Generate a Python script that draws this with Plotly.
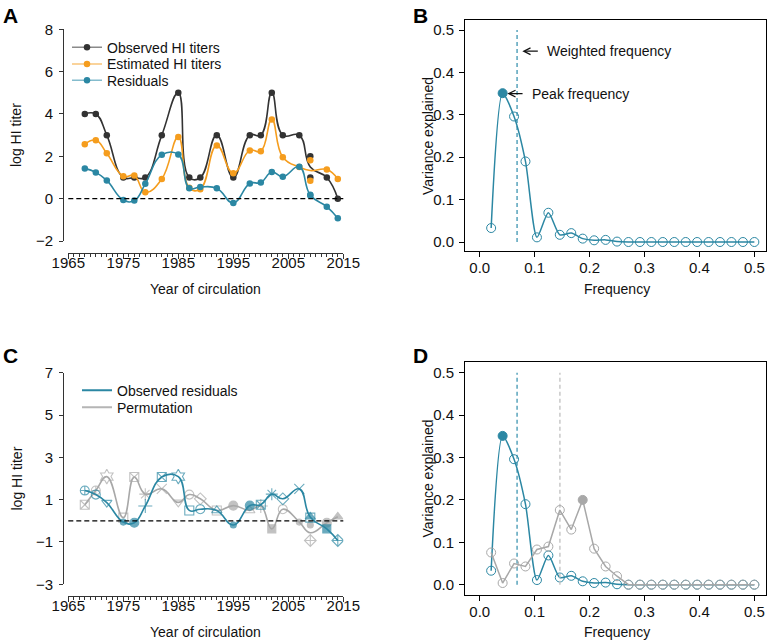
import plotly.graph_objects as go
import pandas as pd

# ---------------- data ----------------
years = [1968, 1970, 1972, 1975, 1977, 1979, 1982, 1985, 1987, 1989, 1992,
         1995, 1998, 2000, 2002, 2004, 2007, 2009, 2009, 2012, 2014]
observed = [4, 4, 3, 1, 1, 1, 3, 5, 1, 1, 3, 1, 3, 3, 5, 3, 3, 2, 1, 1, 0]
estimated = [2.57, 2.76, 2.14, 1.06, 1.09, 0.30, 0.93, 2.91, 0.51, 0.45, 2.51,
             1.20, 2.28, 2.24, 3.74, 1.96, 1.49, 1.81, 0.85, 1.38, 0.93]
residuals = [1.43, 1.24, 0.86, -0.06, -0.09, 0.70, 2.07, 2.09, 0.49, 0.55, 0.49,
             -0.20, 0.72, 0.76, 1.26, 1.04, 1.51, 0.19, 0.15, -0.38, -0.93]
# permuted residuals (panel C), same years
permutation = [0.76, 1.43, 2.09, 0.15, 2.07, 1.26, 1.51, 0.87, 1.24, 1.04, 0.49,
               0.72, 0.49, 0.70, -0.38, 0.55, -0.06, -0.20, -0.93, -0.09, 0.19]
perm_source = [13, 0, 7, 18, 6, 14, 16, 2, 1, 15, 8, 12, 10, 5, 19, 9, 3, 11, 20, 4, 17]

frequency = [0.0208, 0.0417, 0.0625, 0.0833, 0.1042, 0.1250, 0.1458, 0.1667,
             0.1875, 0.2083, 0.2292, 0.2500, 0.2708, 0.2917, 0.3125, 0.3333,
             0.3542, 0.3750, 0.3958, 0.4167, 0.4375, 0.4583, 0.4792, 0.5000]
var_observed = [0.033, 0.351, 0.296, 0.190, 0.011, 0.069, 0.017, 0.021, 0.008,
                0.004, 0.005, 0.001, 0, 0, 0, 0, 0, 0, 0, 0, 0, 0, 0, 0]
var_permuted = [0.076, 0.004, 0.050, 0.043, 0.083, 0.090, 0.176, 0.130, 0.200,
                0.085, 0.043, 0.020, 0, 0, 0, 0, 0, 0, 0, 0, 0, 0, 0, 0]
weighted_freq_observed = 0.068
weighted_freq_permuted = 0.146

x_ticks_years = [1965, 1975, 1985, 1995, 2005, 2015]

# ---------------- styles ----------------
W, H = 770, 640
FONT = "Liberation Sans"
TXT = "#111111"
DARK = "#333333"
ORANGE = "#f59d1e"
TEAL = "#2b87a3"
TEAL_DASH = "#4c9db7"
GRAY = "#a8a8a8"
GRAY_DASH = "#c4c4c4"

teal_symbols = ["circle-cross-open", "circle-open", "triangle-down-open", "circle",
                "circle", "cross-thin-open", "square-x-open", "hexagram-open",
                "square-open", "circle-open", "triangle-up-open", "circle", "circle",
                "square-x-open", "asterisk-open", "diamond-open", "x-thin-open",
                "triangle-up", "square-open", "square", "diamond-cross-open"]
teal_sizes = [9, 9, 9, 6, 9, 10, 9, 11, 9, 9, 9, 6, 9, 9, 10, 9, 10, 9, 9, 8, 9]
gray_symbols = [teal_symbols[i] for i in perm_source]
gray_sizes = [teal_sizes[i] for i in perm_source]


def px(xp):
    return xp / W


def py(yp):
    return 1 - yp / H


fig = go.Figure()

# ---------------- Panel A ----------------
dfA = pd.DataFrame({"year": years, "obs": observed, "est": estimated, "res": residuals})
meanA = dfA.groupby("year", as_index=False).mean()

for col, vals, color in [("obs", observed, DARK), ("est", estimated, ORANGE), ("res", residuals, TEAL)]:
    fig.add_trace(go.Scatter(x=meanA["year"], y=meanA[col], mode="lines",
                             line=dict(color=color, width=1.6, shape="spline", smoothing=1.3),
                             showlegend=False, hoverinfo="skip", xaxis="x", yaxis="y"))
    fig.add_trace(go.Scatter(x=years, y=vals, mode="markers",
                             marker=dict(color=color, size=6.5, symbol="circle"),
                             showlegend=False, xaxis="x", yaxis="y"))

legend_font = dict(family=FONT, size=14, color=TXT)
legend_layout = {}
entries_A = [("Observed HI titers", "#8a8a8a", DARK, 47.7),
             ("Estimated HI titers", "#f8c57a", ORANGE, 64.3),
             ("Residuals", "#84bccd", TEAL, 80.6)]
for i, (name, lc, mc, yc) in enumerate(entries_A):
    lid = "legend" if i == 0 else f"legend{i + 1}"
    fig.add_trace(go.Scatter(x=[None], y=[None], mode="lines+markers", name=name,
                             line=dict(color=lc, width=1.5),
                             marker=dict(color=mc, size=6.5), legend=lid,
                             xaxis="x", yaxis="y"))
    legend_layout[lid] = dict(x=px(67), y=py(yc), xanchor="left", yanchor="middle",
                              bgcolor="rgba(0,0,0,0)", borderwidth=0, font=legend_font)

# ---------------- Panel C ----------------
dfC = pd.DataFrame({"year": years, "res": residuals, "perm": permutation})
meanC = dfC.groupby("year", as_index=False).mean()

fig.add_trace(go.Scatter(x=meanC["year"], y=meanC["perm"], mode="lines",
                         line=dict(color=GRAY, width=1.6, shape="spline", smoothing=1.3),
                         showlegend=False, hoverinfo="skip", xaxis="x3", yaxis="y3"))
fig.add_trace(go.Scatter(x=years, y=permutation, mode="markers",
                         marker=dict(color=GRAY, size=gray_sizes, symbol=gray_symbols,
                                     line=dict(color=GRAY, width=1.1)),
                         showlegend=False, xaxis="x3", yaxis="y3"))
fig.add_trace(go.Scatter(x=meanC["year"], y=meanC["res"], mode="lines",
                         line=dict(color=TEAL, width=1.6, shape="spline", smoothing=1.3),
                         showlegend=False, hoverinfo="skip", xaxis="x3", yaxis="y3"))
fig.add_trace(go.Scatter(x=years, y=residuals, mode="markers",
                         marker=dict(color=TEAL, size=teal_sizes, symbol=teal_symbols,
                                     line=dict(color=TEAL, width=1.1)),
                         showlegend=False, xaxis="x3", yaxis="y3"))
entries_C = [("Observed residuals", TEAL, 390.7), ("Permutation", "#b5b5b5", 407.7)]
for j, (name, lc, yc) in enumerate(entries_C):
    lid = f"legend{4 + j}"
    fig.add_trace(go.Scatter(x=[None], y=[None], mode="lines", name=name,
                             line=dict(color=lc, width=2), legend=lid,
                             xaxis="x3", yaxis="y3"))
    legend_layout[lid] = dict(x=px(77), y=py(yc), xanchor="left", yanchor="middle",
                              bgcolor="rgba(0,0,0,0)", borderwidth=0, font=legend_font)

# ---------------- Panels B and D ----------------
peak_obs = max(range(len(var_observed)), key=lambda i: var_observed[i])
peak_perm = max(range(len(var_permuted)), key=lambda i: var_permuted[i])


def add_spectrum(xa, ya, vals, peak, color, shape, smoothing, wfreq, dash_color):
    fig.add_trace(go.Scatter(x=[wfreq, wfreq], y=[0, 0.5], mode="lines",
                             line=dict(color=dash_color, width=1.4, dash="4px,3px"),
                             showlegend=False, hoverinfo="skip", xaxis=xa, yaxis=ya))
    kw = dict(shape=shape)
    if shape == "spline":
        kw["smoothing"] = smoothing
    fig.add_trace(go.Scatter(x=frequency, y=vals, mode="lines+markers",
                             line=dict(color=color, width=1.5, **kw),
                             marker=dict(symbol="circle-open", size=9, color=color,
                                         line=dict(color=color, width=1)),
                             showlegend=False, xaxis=xa, yaxis=ya))
    fig.add_trace(go.Scatter(x=[frequency[peak]], y=[vals[peak]], mode="markers",
                             marker=dict(symbol="circle", size=9, color=color),
                             showlegend=False, xaxis=xa, yaxis=ya))


add_spectrum("x2", "y2", var_observed, peak_obs, TEAL, "spline", 0.7,
             weighted_freq_observed, TEAL_DASH)
add_spectrum("x4", "y4", var_observed, peak_obs, TEAL, "spline", 0.7,
             weighted_freq_observed, TEAL_DASH)
add_spectrum("x4", "y4", var_permuted, peak_perm, GRAY, "linear", 0,
             weighted_freq_permuted, GRAY_DASH)

# ---------------- axes ----------------
tickfont = dict(family=FONT, size=15, color=TXT)


def year_axis(yline):
    return dict(domain=[px(68.3), px(343.3)], range=[1965, 2015], anchor="free",
                position=py(yline), showline=True, linecolor=DARK, linewidth=1,
                ticks="outside", ticklen=4.5, tickwidth=1, tickcolor=DARK,
                tickvals=x_ticks_years, tickfont=tickfont, showgrid=False, zeroline=False,
                automargin=False, ticklabelstandoff=-9,
                minor=dict(ticks="outside", ticklen=2.5, tickwidth=1, tickcolor=DARK,
                           dtick=1, tick0=1965, showgrid=False))


def titer_axis(top, bottom, rng, tick0):
    return dict(domain=[py(bottom), py(top)], range=rng, anchor="free", position=px(63),
                showline=True, linecolor=DARK, linewidth=1, ticks="outside", ticklen=4,
                tickwidth=1, tickcolor=DARK, tick0=tick0, dtick=2, tickfont=tickfont,
                showgrid=False, zeroline=False, ticklabelstandoff=3, automargin=False)


def freq_xaxis(anchor):
    return dict(domain=[px(465), px(766)], range=[-0.0268, 0.5212], anchor=anchor,
                showline=True, mirror=True, linecolor="black", linewidth=1,
                ticks="outside", ticklen=5, tickwidth=1, tickcolor="black",
                tick0=0, dtick=0.1, tickformat=".1f", tickfont=tickfont,
                showgrid=False, zeroline=False, automargin=False, ticklabelstandoff=-2)


def var_yaxis(anchor, top, bottom, rng):
    return dict(domain=[py(bottom), py(top)], range=rng, anchor=anchor,
                showline=True, mirror=True, linecolor="black", linewidth=1,
                ticks="outside", ticklen=5, tickwidth=1, tickcolor="black",
                tick0=0, dtick=0.1, tickformat=".1f", tickfont=tickfont,
                showgrid=False, zeroline=False, ticklabelstandoff=2, automargin=False)


fig.update_layout(
    xaxis=year_axis(253), yaxis=titer_axis(29.3, 241, [-2, 8], -2),
    xaxis3=year_axis(596), yaxis3=titer_axis(372.7, 584.3, [-3, 7], -3),
    xaxis2=freq_xaxis("y2"), yaxis2=var_yaxis("x2", 20, 251, [-0.0212, 0.5236]),
    xaxis4=freq_xaxis("y4"), yaxis4=var_yaxis("x4", 361.7, 595.3, [-0.025, 0.526]),
)

# zero reference lines
for xa, ya in [("x", "y"), ("x3", "y3")]:
    fig.add_shape(type="line", xref=f"{xa} domain", yref=ya, x0=0, x1=1, y0=0, y1=0,
                  line=dict(color="black", width=1.2, dash="5px,3px"))

# ---------------- annotations ----------------
ann = []
for label, xp, yp in [("A", 1, 2), ("B", 411, 2), ("C", 1, 342), ("D", 411, 342)]:
    ann.append(dict(text=f"<b>{label}</b>", x=px(xp), y=py(yp), xref="paper", yref="paper",
                    xanchor="left", yanchor="top", showarrow=False,
                    font=dict(family=FONT, size=21, color="black")))

title_font = dict(family=FONT, size=14, color=TXT)
for text, xp, yp, ang in [("Year of circulation", 205.8, 289, 0),
                          ("log HI titer", 16, 135, -90),
                          ("Year of circulation", 205.8, 632, 0),
                          ("log HI titer", 16, 478.5, -90),
                          ("Frequency", 617, 289, 0),
                          ("Variance explained", 427.5, 136.5, -90),
                          ("Frequency", 617, 632, 0),
                          ("Variance explained", 427.5, 479, -90)]:
    ann.append(dict(text=text, x=px(xp), y=py(yp), xref="paper", yref="paper",
                    xanchor="center", yanchor="middle", textangle=ang, showarrow=False,
                    font=title_font))

# arrows in B
for head, tail, yv, txt, tx in [(0.0776, 0.1085, 0.45, "Weighted frequency", 0.118),
                                (0.0503, 0.0807, 0.35, "Peak frequency", 0.0916)]:
    ann.append(dict(x=head, y=yv, ax=tail, ay=yv, xref="x2", yref="y2", axref="x2",
                    ayref="y2", text="", showarrow=True, arrowhead=5, arrowsize=1.1,
                    arrowwidth=1.2, arrowcolor="#111111"))
    ann.append(dict(x=tx, y=yv, xref="x2", yref="y2", text=txt, showarrow=False,
                    xanchor="left", yanchor="middle", font=title_font))

fig.update_layout(
    annotations=ann,
    width=W, height=H, margin=dict(l=0, r=0, t=0, b=0, pad=0, autoexpand=False),
    paper_bgcolor="white", plot_bgcolor="white",
    font=dict(family=FONT, size=14, color=TXT),
    **legend_layout,
)

fig.write_html("out.html", config={"displayModeBar": False},
               post_script="document.body.style.margin='0px';")
